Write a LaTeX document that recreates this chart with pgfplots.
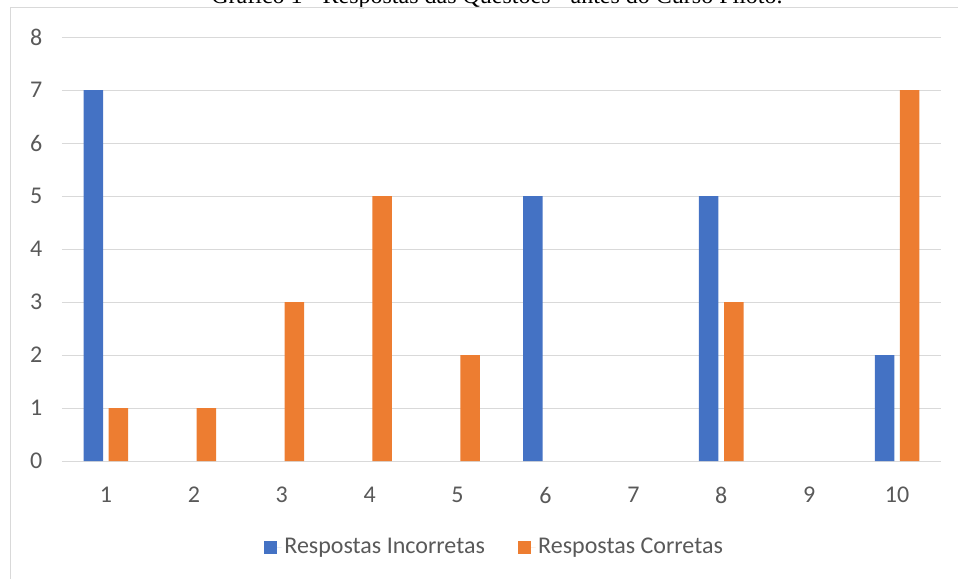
\documentclass[border=0pt]{standalone}
\usepackage{pgfplots}
\pgfplotsset{compat=1.18}
\usepackage{fontspec}
\setmainfont{Carlito}
\newfontfamily\titlefont{Liberation Serif}
\definecolor{cblue}{HTML}{4472C4}
\definecolor{corange}{HTML}{ED7D31}
\definecolor{cgrid}{HTML}{D9D9D9}
\definecolor{ctext}{HTML}{595959}
\begin{document}
\begin{tikzpicture}
\path[use as bounding box, clip] (0,0) rectangle (718.5pt,434.25pt);
\node[anchor=base, font=\titlefont\fontsize{18pt}{20pt}\selectfont, inner sep=0pt] at (372.75pt,431.25pt) {Gráfico 1 - Respostas das Questões - antes do Curso Piloto.};
\draw[cgrid, line width=0.75pt] (7.5pt,-2pt) -- (7.5pt,428.25pt) -- (720pt,428.25pt);
\begin{axis}[
  at={(46.5pt,88.5pt)}, anchor=south west,
  scale only axis, width=659.25pt, height=318pt,
  xmin=0.5, xmax=10.5, ymin=0, ymax=8,
  xtick={1,...,10}, ytick={0,...,8},
  ymajorgrids, grid style={cgrid, line width=0.75pt},
  axis line style={draw=none}, tick style={draw=none},
  ticklabel style={font=\fontsize{18pt}{20pt}\selectfont, text=ctext},
  /pgf/number format/assume math mode=true,
  yticklabel style={xshift=-11.2pt},
  xticklabel style={yshift=-11.6pt},
  ybar, bar width=14.6pt,
  y filter/.expression={y==0 ? nan : y},
  unbounded coords=discard,
  legend style={at={(0.4926,-0.203)}, anchor=center, draw=none, fill=none,
    legend columns=2, font=\fontsize{18pt}{20pt}\selectfont, text=ctext,
    /tikz/every even column/.append style={column sep=23pt}},
  legend image code/.code={\fill[#1] (0pt,-4.9pt) rectangle (9.75pt,4.9pt); \path (0pt,0pt) -- (13pt,0pt);},
]
\addplot[fill=cblue, draw=none, bar shift=-9.4pt] coordinates {(1,7) (2,0) (3,0) (4,0) (5,0) (6,5) (7,0) (8,5) (9,0) (10,2)};
\addplot[fill=corange, draw=none, bar shift=9.4pt] coordinates {(1,1) (2,1) (3,3) (4,5) (5,2) (6,0) (7,0) (8,3) (9,0) (10,7)};
\legend{Respostas Incorretas, Respostas Corretas}
\end{axis}
\end{tikzpicture}
\end{document}
